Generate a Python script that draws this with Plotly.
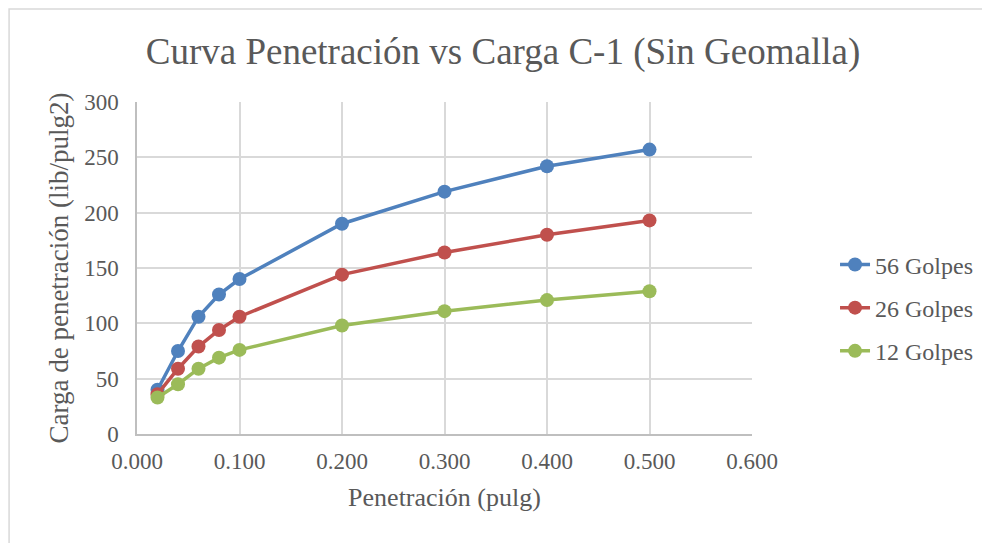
import plotly.graph_objects as go

penetracion = [0.02, 0.04, 0.06, 0.08, 0.10, 0.20, 0.30, 0.40, 0.50]
golpes_56 = [40, 75, 106, 126, 140, 190, 219, 242, 257]
golpes_26 = [36, 59, 79, 94, 106, 144, 164, 180, 193]
golpes_12 = [33, 45, 59, 69, 76, 98, 111, 121, 129]

series = [("56 Golpes", golpes_56, "#4f81bd"),
          ("26 Golpes", golpes_26, "#c0504d"),
          ("12 Golpes", golpes_12, "#9bbb59")]

FONT = "Liberation Serif"
TXT = "#595959"

fig = go.Figure()
for i, (name, vals, col) in enumerate(series):
    fig.add_trace(go.Scatter(
        x=penetracion, y=vals, name=name, mode="lines+markers",
        line=dict(color=col, width=3.5),
        marker=dict(color=col, size=14),
        legendgroup=f"g{i}",
    ))

fig.update_layout(
    width=990, height=543,
    paper_bgcolor="white", plot_bgcolor="white",
    margin=dict(l=129, r=246, t=94, b=117),
    title=dict(text="Curva Penetración vs Carga C-1 (Sin Geomalla)",
               font=dict(family=FONT, size=37, color=TXT),
               x=0.5, xanchor="center", y=0.92, yanchor="middle"),
    font=dict(family=FONT, color=TXT),
    legend=dict(x=1.135, y=0.38, xanchor="left", yanchor="middle",
                font=dict(family=FONT, size=24, color=TXT),
                traceorder="grouped", tracegroupgap=9,
                bgcolor="rgba(0,0,0,0)"),
    showlegend=True,
    shapes=[dict(type="rect", xref="paper", yref="paper",
                 x0=-0.208, x1=1.6, y0=-0.6, y1=1.28,
                 line=dict(color="#d9d9d9", width=1.5), layer="below")],
)
fig.update_xaxes(range=[0, 0.6], dtick=0.1, tickformat=".3f",
                 showgrid=True, gridcolor="#d9d9d9", gridwidth=1.5,
                 showline=True, linecolor="#bfbfbf", linewidth=1.5,
                 zeroline=False, ticks="", ticklabelstandoff=6,
                 tickfont=dict(family=FONT, size=23, color=TXT),
                 title=dict(text="Penetración (pulg)", standoff=14,
                            font=dict(family=FONT, size=26, color=TXT)))
fig.update_yaxes(range=[0, 300], dtick=50,
                 showgrid=True, gridcolor="#d9d9d9", gridwidth=1.5,
                 showline=True, linecolor="#bfbfbf", linewidth=1.5,
                 zeroline=False, ticks="", ticklabelstandoff=12,
                 tickfont=dict(family=FONT, size=23, color=TXT),
                 title=dict(text="Carga de penetración (lib/pulg2)", standoff=8,
                            font=dict(family=FONT, size=27, color=TXT)))

fig.write_html("out.html")
